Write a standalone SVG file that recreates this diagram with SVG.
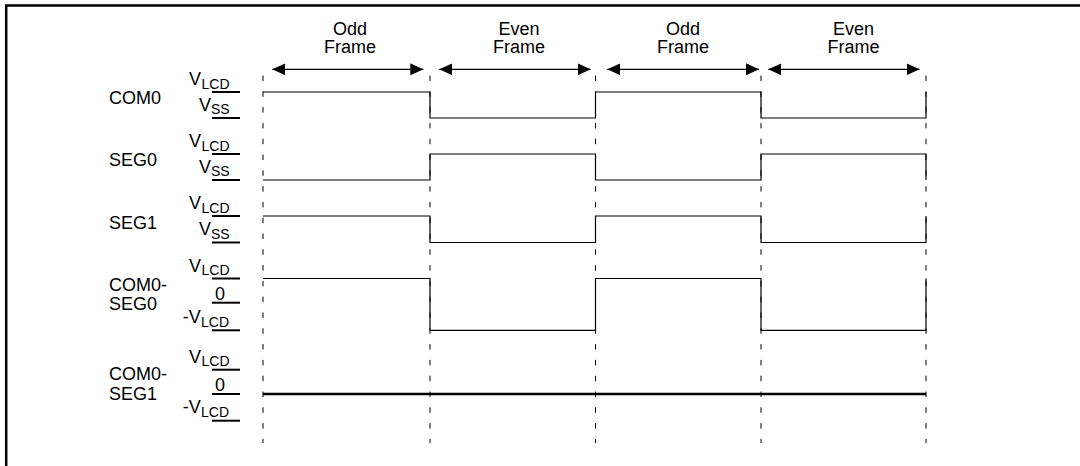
<svg xmlns="http://www.w3.org/2000/svg" width="1080" height="466" viewBox="0 0 1080 466">
<style>
.t{font-family:"Liberation Sans",Arial,Helvetica,sans-serif;font-size:18px;fill:#000}
.s{font-size:14px}
.m{text-anchor:middle}
.wave{fill:none;stroke:#000;stroke-width:1.2}
.thick{fill:none;stroke:#000;stroke-width:2.6}
.bar{stroke:#000;stroke-width:2}
.dash{stroke:#000;stroke-width:1;stroke-dasharray:5.5 10.3}
.arr{stroke:#000;stroke-width:1.2;marker-start:url(#ah);marker-end:url(#ah)}
.frame{fill:none;stroke:#000;stroke-width:2.5}
</style>
<defs>
<marker id="ah" markerUnits="userSpaceOnUse" markerWidth="13" markerHeight="12" refX="13" refY="6" orient="auto-start-reverse">
<path d="M0,0 L13,6 L0,12 Z" fill="#000"/>
</marker>
</defs>
<rect width="1080" height="466" fill="#fff"/>
<path class="frame" d="M6.2,466 V5.5 H1080"/>

<g id="frames">
<g id="frame1">
<text class="t m" x="350" y="34.5">Odd</text>
<text class="t m" x="350" y="52.5">Frame</text>
</g>
<g id="frame2">
<text class="t m" x="519" y="34.5">Even</text>
<text class="t m" x="519" y="52.5">Frame</text>
</g>
<g id="frame3">
<text class="t m" x="683" y="34.5">Odd</text>
<text class="t m" x="683" y="52.5">Frame</text>
</g>
<g id="frame4">
<text class="t m" x="853.5" y="34.5">Even</text>
<text class="t m" x="853.5" y="52.5">Frame</text>
</g>
</g>

<g id="connectors">
<line class="arr" x1="272.3" y1="69.3" x2="423.3" y2="69.3"/>
<line class="arr" x1="439.3" y1="69.3" x2="590.7" y2="69.3"/>
<line class="arr" x1="607.3" y1="69.3" x2="759" y2="69.3"/>
<line class="arr" x1="768.3" y1="69.3" x2="919.5" y2="69.3"/>
<line class="dash" x1="263" y1="75.5" x2="263" y2="443"/>
<line class="dash" x1="430" y1="75.5" x2="430" y2="443"/>
<line class="dash" x1="595.5" y1="75.5" x2="595.5" y2="443"/>
<line class="dash" x1="761" y1="75.5" x2="761" y2="443"/>
<line class="dash" x1="926" y1="75.5" x2="926" y2="443"/>
</g>

<g id="com0">
<text class="t" x="109" y="103.5">COM0</text>
<text class="t" x="189" y="85">V<tspan class="s" x="201.5" y="88.5">LCD</tspan></text>
<text class="t" x="199" y="110.5">V<tspan class="s" x="211" y="114">SS</tspan></text>
<line class="bar" x1="212" y1="92" x2="240" y2="92"/>
<line class="bar" x1="212" y1="118" x2="240" y2="118"/>
<path class="wave" d="M263,92 H430 V118 H595.5 V92 H761 V118 H926 V92"/>
</g>

<g id="seg0">
<text class="t" x="109" y="166">SEG0</text>
<text class="t" x="189" y="147">V<tspan class="s" x="201.5" y="150.5">LCD</tspan></text>
<text class="t" x="199" y="172.5">V<tspan class="s" x="211" y="176">SS</tspan></text>
<line class="bar" x1="212" y1="154" x2="240" y2="154"/>
<line class="bar" x1="212" y1="180" x2="240" y2="180"/>
<path class="wave" d="M263,180 H430 V154 H595.5 V180 H761 V154 H926 V180"/>
</g>

<g id="seg1">
<text class="t" x="109" y="228.5">SEG1</text>
<text class="t" x="189" y="209">V<tspan class="s" x="201.5" y="212.5">LCD</tspan></text>
<text class="t" x="199" y="235">V<tspan class="s" x="211" y="238.5">SS</tspan></text>
<line class="bar" x1="212" y1="216" x2="240" y2="216"/>
<line class="bar" x1="212" y1="242.5" x2="240" y2="242.5"/>
<path class="wave" d="M263,216 H430 V242.5 H595.5 V216 H761 V242.5 H926 V216"/>
</g>

<g id="com0-seg0">
<text class="t" x="109" y="290.7">COM0-</text>
<text class="t" x="109" y="310">SEG0</text>
<text class="t" x="189" y="271.5">V<tspan class="s" x="201.5" y="275">LCD</tspan></text>
<text class="t m" x="220" y="300">0</text>
<text class="t" x="182.7" y="322.8">-V<tspan class="s" x="201" y="326.8">LCD</tspan></text>
<line class="bar" x1="212" y1="278.5" x2="240" y2="278.5"/>
<line class="bar" x1="212" y1="302.7" x2="240" y2="302.7"/>
<line class="bar" x1="212" y1="330.3" x2="240" y2="330.3"/>
<path class="wave" d="M263,278.5 H430 V330.3 H595.5 V278.5 H761 V330.3 H926 V278.5"/>
</g>

<g id="com0-seg1">
<text class="t" x="109" y="380">COM0-</text>
<text class="t" x="109" y="399.5">SEG1</text>
<text class="t" x="189" y="362.5">V<tspan class="s" x="201.5" y="366">LCD</tspan></text>
<text class="t m" x="220" y="391.3">0</text>
<text class="t" x="182.7" y="413.2">-V<tspan class="s" x="201" y="417.2">LCD</tspan></text>
<line class="bar" x1="212" y1="369.7" x2="240" y2="369.7"/>
<line class="bar" x1="212" y1="394" x2="240" y2="394"/>
<line class="bar" x1="212" y1="420.7" x2="240" y2="420.7"/>
<path class="thick" d="M263,394 H926"/>
</g>
</svg>
